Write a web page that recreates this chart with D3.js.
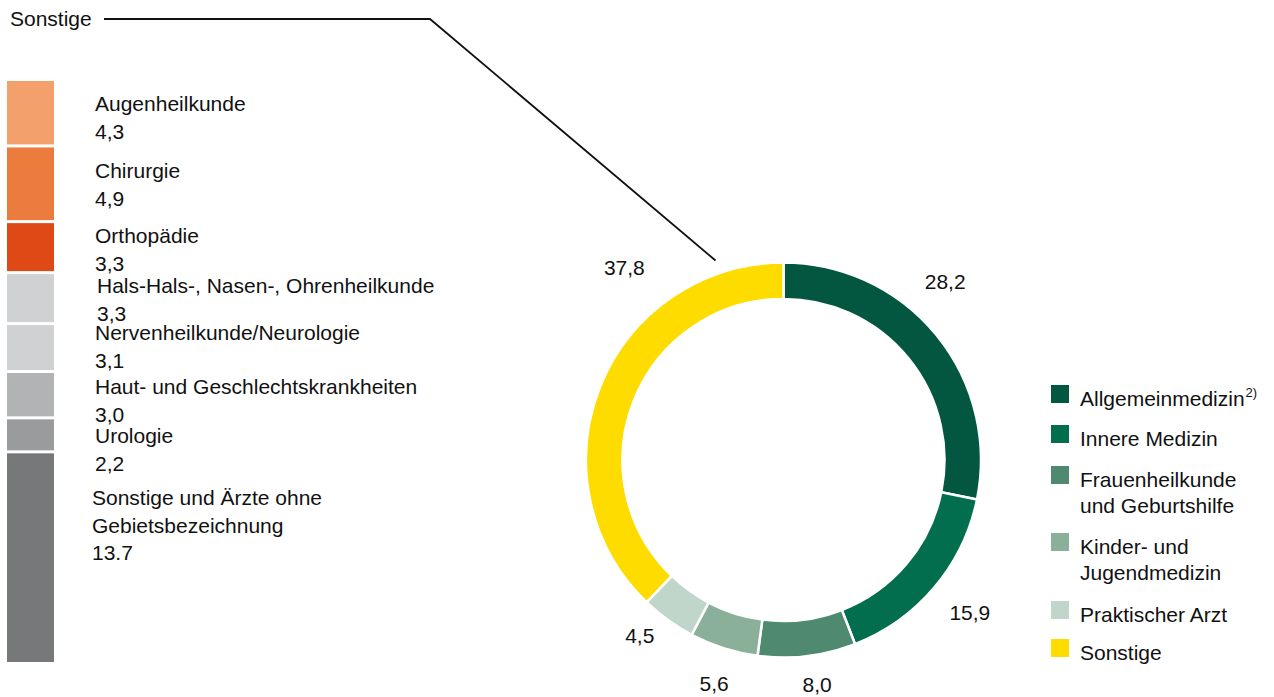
<!DOCTYPE html>
<html lang="de">
<head>
<meta charset="utf-8">
<title>Ärzte nach Fachgebieten</title>
<script src="https://cdn.jsdelivr.net/npm/d3@7"></script>
<style>
  body { margin: 0; background: #fff; }
  svg text { font-family: "Liberation Sans", Arial, sans-serif; fill: #111; }
</style>
</head>
<body>
<svg width="1274" height="697"></svg>
<script>
// donut: Anteile in %
var ringNames = ["Allgemeinmedizin", "Innere Medizin", "Frauenheilkunde\nund Geburtshilfe",
                 "Kinder- und\nJugendmedizin", "Praktischer Arzt", "Sonstige"];
var ringValues = [28.2, 15.9, 8.0, 5.6, 4.5, 37.8];
var ringColors = ["#035741", "#036e4e", "#4f8a70", "#8ab09a", "#c1d6ca", "#ffdc00"];

// aufgeschluesselt: Sonstige
var barNames = ["Augenheilkunde", "Chirurgie", "Orthopädie", "Hals-Hals-, Nasen-, Ohrenheilkunde",
                "Nervenheilkunde/Neurologie", "Haut- und Geschlechtskrankheiten", "Urologie",
                "Sonstige und Ärzte ohne\nGebietsbezeichnung"];
var barValues = [4.3, 4.9, 3.3, 3.3, 3.1, 3.0, 2.2, 13.7];
var barValueText = ["4,3", "4,9", "3,3", "3,3", "3,1", "3,0", "2,2", "13.7"];
var barColors = ["#f4a06c", "#ec7c3e", "#de4915", "#d0d1d3", "#d0d1d3", "#b2b3b4", "#9a9b9c", "#77787a"];

var svg = d3.select("svg");
var fs = "21px";
var fmt = function(v) { return d3.format(".1f")(v).replace(".", ","); };

// ---- donut
var cx = 783.5, cy = 460, rOut = 197.5, rIn = 161;
var pie = d3.pie().sort(null).value(function(d) { return d; });
var arcs = pie(ringValues);
var arc = d3.arc().innerRadius(rIn).outerRadius(rOut);
var labelArc = d3.arc().innerRadius(232).outerRadius(232);
var labelNudge = [[-18, -32], [9, 3], [6, -6], [1, 3], [-8, -12], [56, -106]];

var g = svg.append("g").attr("transform", "translate(" + cx + "," + cy + ")");
g.selectAll("path")
  .data(arcs)
  .enter().append("path")
  .attr("d", arc)
  .attr("fill", function(d, i) { return ringColors[i]; })
  .attr("stroke", "#fff")
  .attr("stroke-width", 2.5);

g.selectAll("text.val")
  .data(arcs)
  .enter().append("text")
  .attr("class", "val")
  .attr("x", function(d, i) { return labelArc.centroid(d)[0] + labelNudge[i][0]; })
  .attr("y", function(d, i) { return labelArc.centroid(d)[1] + labelNudge[i][1]; })
  .attr("dy", "0.35em")
  .attr("text-anchor", "middle")
  .attr("font-size", fs)
  .text(function(d) { return fmt(d.data); });

// leader from "Sonstige" to the yellow slice
var sonst = arcs[5];
var tip = d3.pointRadial(sonst.endAngle - 0.01, rOut + 1);
svg.append("text").attr("x", 10).attr("y", 26).attr("font-size", fs).text("Sonstige");
svg.append("path")
  .attr("d", d3.line()([[104, 19], [430, 19], [cx + tip[0] - 66, cy + tip[1] - 1]]))
  .attr("fill", "none").attr("stroke", "#111").attr("stroke-width", 1.8);

// ---- stacked bar
var total = d3.sum(barValues);
var y = d3.scaleLinear().domain([0, total]).range([79.5, 663.5]);
var cum = 0;
var stack = barValues.map(function(v, i) {
  var s = { i: i, y0: cum, y1: cum + v };
  cum += v;
  return s;
});
var gap = 3;
svg.selectAll("rect.seg")
  .data(stack)
  .enter().append("rect")
  .attr("class", "seg")
  .attr("x", 7).attr("width", 47)
  .attr("y", function(d) { return y(d.y0) + gap / 2; })
  .attr("height", function(d) { return y(d.y1) - y(d.y0) - gap; })
  .attr("fill", function(d) { return barColors[d.i]; });

var barLabelNudge = [[95, 30], [95, 31], [95, 20], [97, 19], [95, 15], [95, 21], [95, 24], [92, 52]];
var lab = svg.selectAll("text.blab")
  .data(stack)
  .enter().append("text")
  .attr("class", "blab")
  .attr("font-size", fs)
  .attr("transform", function(d) {
    return "translate(" + barLabelNudge[d.i][0] + "," + (y(d.y0) + 1.5 + barLabelNudge[d.i][1]) + ")";
  });
lab.each(function(d) {
  var t = d3.select(this);
  var lines = barNames[d.i].split("\n").concat([barValueText[d.i]]);
  lines.forEach(function(l, k) {
    t.append("tspan").attr("x", 0).attr("y", k * 27.5).text(l);
  });
});

// ---- legend
var legY = [385, 425, 466, 533, 601, 639];
var leg = svg.selectAll("g.leg")
  .data(ringNames)
  .enter().append("g")
  .attr("class", "leg")
  .attr("transform", function(d, i) { return "translate(1051," + legY[i] + ")"; });
leg.append("rect").attr("width", 18).attr("height", 18)
  .attr("fill", function(d, i) { return ringColors[i]; });
leg.each(function(d, i) {
  var t = d3.select(this).append("text").attr("font-size", fs);
  d.split("\n").forEach(function(l, k) {
    t.append("tspan").attr("x", 29).attr("y", 21 + k * 26).text(l);
  });
  if (i === 0) {
    t.append("tspan").attr("font-size", "13px").attr("dy", -9).attr("dx", 1).text("2)");
  }
});
</script>
</body>
</html>
